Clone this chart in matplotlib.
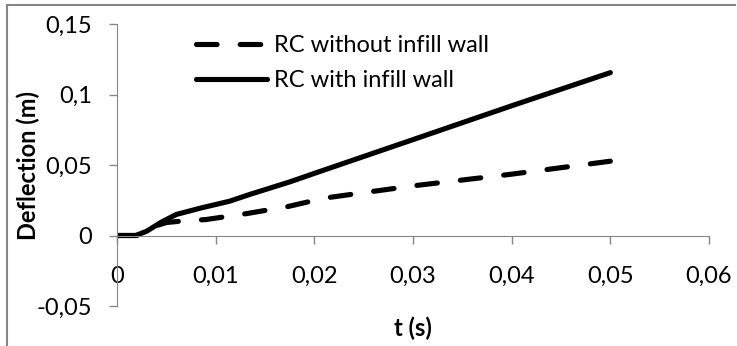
import matplotlib.pyplot as plt
from matplotlib.lines import Line2D
from matplotlib.ticker import FuncFormatter

# time (s) and deflection (m)
t_without = [0.0, 0.002, 0.003, 0.004, 0.005, 0.0065, 0.009, 0.0132, 0.0173,
             0.021, 0.03, 0.04, 0.05]
d_without = [0.0, 0.0, 0.003, 0.007, 0.0092, 0.0102, 0.0113, 0.0156, 0.0205,
             0.0265, 0.0352, 0.0435, 0.0527]

t_with = [0.0, 0.0019, 0.003, 0.0045, 0.006, 0.0085, 0.0114, 0.0134, 0.0175,
          0.0206, 0.03, 0.04, 0.05]
d_with = [0.0, 0.0, 0.003, 0.0095, 0.0149, 0.0195, 0.0243, 0.029, 0.038,
          0.0455, 0.068, 0.092, 0.1155]

labels = ["RC without infill wall", "RC with infill wall"]

plt.rcParams["font.family"] = ["Lato", "DejaVu Sans"]
FS = 17
LW = 3.7

W, H = 737, 346
fig = plt.figure(figsize=(W / 100, H / 100), dpi=100)
ax = fig.add_axes([117 / W, 40 / H, 592 / W, 282 / H])

ax.plot(t_without, d_without, color="black", lw=LW, dashes=(4, 4.5),
        solid_capstyle="round", dash_capstyle="round")
ax.plot(t_with, d_with, color="black", lw=LW, solid_capstyle="round")

ax.set_xlim(0, 0.06)
ax.set_ylim(-0.05, 0.15)
ax.set_xticks([0, 0.01, 0.02, 0.03, 0.04, 0.05, 0.06])
ax.set_yticks([-0.05, 0, 0.05, 0.1, 0.15])

comma = FuncFormatter(lambda v, p: "0" if abs(v) < 1e-12 else f"{v:g}".replace(".", ","))
ax.xaxis.set_major_formatter(comma)
ax.yaxis.set_major_formatter(comma)

# excel style axes: x axis crosses at y=0
for s in ["top", "right"]:
    ax.spines[s].set_visible(False)
ax.spines["bottom"].set_position(("data", 0))
ax.spines["bottom"].set_color("#868686")
ax.spines["left"].set_color("#868686")
ax.tick_params(axis="both", colors="#868686", labelcolor="black", labelsize=FS,
               length=6, width=1, direction="out")
ax.xaxis.set_tick_params(pad=16)
ax.yaxis.set_tick_params(pad=12)

fig.text(28 / W, 1 - 165 / H, "Deflection (m)", fontsize=FS, weight="bold",
         rotation=90, ha="center", va="center")
fig.text(413 / W, 1 - 328 / H, "t (s)", fontsize=FS, weight="bold",
         ha="center", va="center")

# legend
handles = [Line2D([], [], color="black", lw=LW, dashes=(4, 4.5),
                  dash_capstyle="round"),
           Line2D([], [], color="black", lw=LW, solid_capstyle="round")]
ax.legend(handles, labels, loc="upper left",
          bbox_to_anchor=(196 / W, 1 - 35 / H), bbox_transform=fig.transFigure,
          frameon=False, fontsize=FS, handlelength=3.0, handletextpad=0.3,
          labelspacing=0.6, borderpad=0, borderaxespad=0)

# outer chart frame
fig.add_artist(Line2D([7 / W, 7 / W], [0, 1 - 5 / H], color="#868686",
                      lw=1.5, transform=fig.transFigure))
fig.add_artist(Line2D([7 / W, 735 / W], [1 - 5 / H, 1 - 5 / H],
                      color="#868686", lw=1.5, transform=fig.transFigure))

fig.savefig("out.png", dpi=100)
